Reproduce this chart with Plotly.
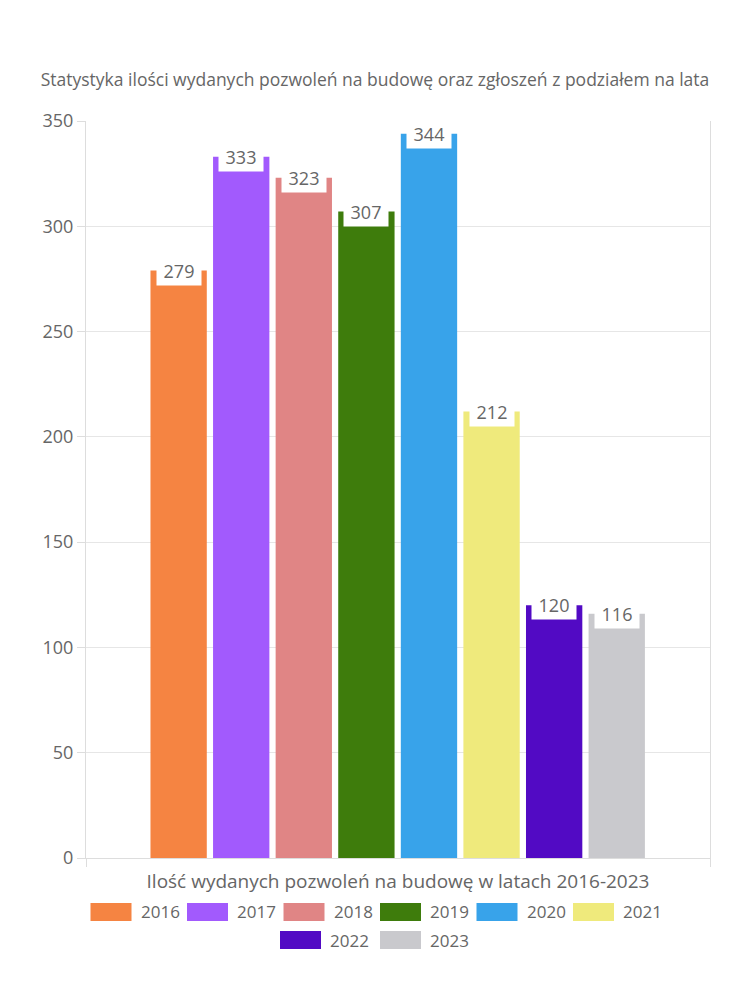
import plotly.graph_objects as go

years = ["2016", "2017", "2018", "2019", "2020", "2021", "2022", "2023"]
values = [279, 333, 323, 307, 344, 212, 120, 116]
colors = ["#F58442", "#A25AFD", "#E08585", "#3E7C0C", "#38A3EA", "#EFEA7C", "#520AC4", "#C9C9CD"]
title_text = "Statystyka ilości wydanych pozwoleń na budowę oraz zgłoszeń z podziałem na lata"
xaxis_title = "Ilość wydanych pozwoleń na budowę w latach 2016-2023"
ytick_vals = [0, 50, 100, 150, 200, 250, 300, 350]

FONT = "Open Sans"
TXT = "#666666"

fig = go.Figure()
for i, (yr, v, c) in enumerate(zip(years, values, colors)):
    fig.add_trace(go.Bar(x=[i], y=[v], name=yr, marker=dict(color=c, line=dict(width=0)),
                         width=0.9, showlegend=False, hoverinfo="skip"))
    fig.add_annotation(x=i, y=v, xref="x", yref="y", text=str(v), showarrow=False,
                       yanchor="middle", yshift=0, width=40,
                       font=dict(family=FONT, size=18, color=TXT),
                       bgcolor="white", borderpad=2)

# custom legend (wide swatches)
legend_rows = [years[:6], years[6:]]
W = 750.0
item_w = [96.5, 100.0]
sw_w = 41.0
sw_h = 18.0
row_y = [912.0, 940.0]
for r, row in enumerate(legend_rows):
    total = len(row) * item_w[r] - 10
    x0 = (W - total) / 2.0
    for j, yr in enumerate(row):
        k = years.index(yr)
        xs = x0 + j * item_w[r]
        yc = row_y[r]
        fig.add_shape(type="rect", xref="paper", yref="paper",
                      x0=(xs - 86) / 624.0, x1=(xs + sw_w - 86) / 624.0,
                      y0=(858 - (yc + sw_h / 2)) / 737.0, y1=(858 - (yc - sw_h / 2)) / 737.0,
                      fillcolor=colors[k], line=dict(width=0))
        fig.add_annotation(xref="paper", yref="paper",
                           x=(xs + sw_w + 7 - 86) / 624.0, y=(858 - yc) / 737.0,
                           xanchor="left", yanchor="middle", showarrow=False, text=yr,
                           font=dict(family=FONT, size=17, color=TXT))

fig.update_layout(
    width=750, height=1000,
    margin=dict(l=86, r=40, t=121, b=142),
    paper_bgcolor="white", plot_bgcolor="white",
    barmode="overlay",
    showlegend=False,
    title=dict(text=title_text, x=0.5, xanchor="center", y=1 - 80 / 1000.0, yanchor="middle",
               font=dict(family=FONT, size=17.5, color=TXT)),
    font=dict(family=FONT, color=TXT),
)
fig.update_xaxes(range=[-1.48, 8.49], showgrid=False, zeroline=False,
                 showline=True, linecolor="#dddddd", linewidth=1,
                 tickmode="array", tickvals=[-1.48, 8.49], ticktext=["", ""],
                 ticks="outside", ticklen=8, tickcolor="#dddddd",
                 title=dict(text=xaxis_title, font=dict(family=FONT, size=19, color=TXT), standoff=6))
fig.update_yaxes(range=[0, 350], tickvals=ytick_vals, showgrid=True, gridcolor="#e6e6e6",
                 zeroline=False, showline=True, linecolor="#dddddd", mirror=True,
                 ticks="outside", ticklen=8, tickcolor="#dddddd",
                 tickfont=dict(family=FONT, size=18, color=TXT))

fig.write_html("out.html")
